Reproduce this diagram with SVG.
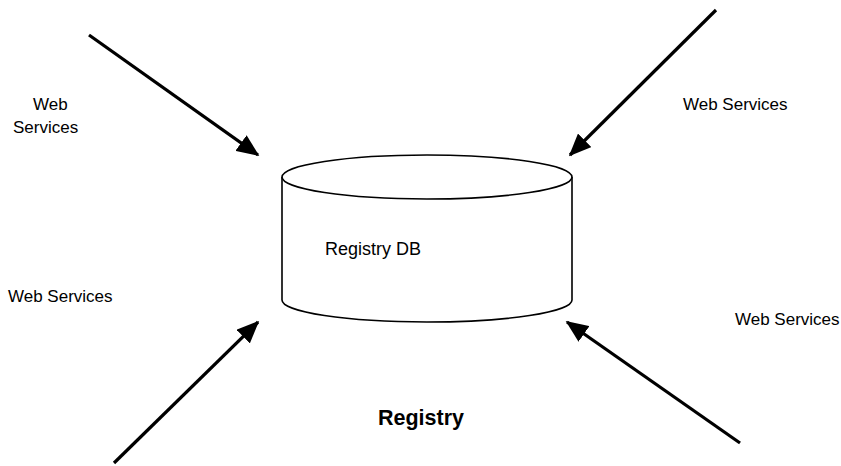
<svg xmlns="http://www.w3.org/2000/svg" width="841" height="466" viewBox="0 0 841 466">
<style>
.t{font-family:"Liberation Sans",Arial,sans-serif;font-size:17px;fill:#000}
.d{font-size:18px}
.b{font-family:"Liberation Sans",Arial,sans-serif;font-size:21.5px;font-weight:bold;fill:#000}
.c{fill:#fff;stroke:#000;stroke-width:1.6}
.a{stroke:#000;stroke-width:3.2;fill:none;marker-end:url(#ah)}
</style>
<defs>
<marker id="ah" markerWidth="7" markerHeight="6" refX="6.5" refY="3" orient="auto" markerUnits="strokeWidth">
<path d="M0,0 L7,3 L0,6 Z" fill="#000"/>
</marker>
</defs>
<rect width="841" height="466" fill="#fff"/>
<g id="registry-db">
<path class="c" d="M282,177 L282,300 A145,22 0 0 0 572,300 L572,177"/>
<ellipse class="c" cx="427" cy="177" rx="145" ry="22"/>
<text class="t d" x="325" y="255">Registry DB</text>
</g>
<g id="label-registry">
<text class="b" x="378" y="425">Registry</text>
</g>
<g id="ws-top-left">
<text class="t" x="33" y="110">Web</text>
<text class="t" x="13" y="133">Services</text>
</g>
<g id="ws-top-right">
<text class="t" x="683" y="110">Web Services</text>
</g>
<g id="ws-mid-left">
<text class="t" x="8" y="302">Web Services</text>
</g>
<g id="ws-bottom-right">
<text class="t" x="735" y="325">Web Services</text>
</g>
<g id="connectors">
<line class="a" x1="89" y1="35" x2="258" y2="155"/>
<line class="a" x1="716" y1="10" x2="570" y2="155"/>
<line class="a" x1="114" y1="463" x2="258" y2="322"/>
<line class="a" x1="740" y1="443" x2="567" y2="322"/>
</g>
</svg>
